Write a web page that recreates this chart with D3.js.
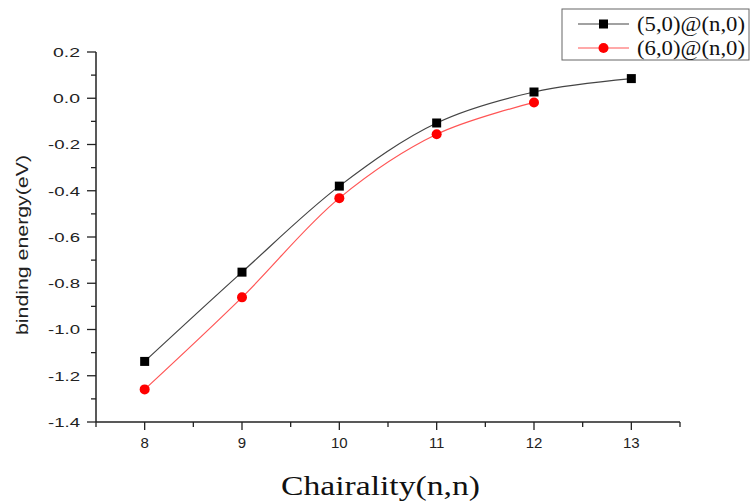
<!DOCTYPE html>
<html><head><meta charset="utf-8">
<script src="https://cdn.jsdelivr.net/npm/d3@7"></script>
<style>html,body{margin:0;padding:0;background:#fff;}svg{display:block;}</style>
</head><body>
<svg id="c" width="754" height="501"></svg>
<script>
const categories = [8, 9, 10, 11, 12, 13];
const series1Name = "(5,0)@(n,0)";
const series1 = [-1.138, -0.752, -0.380, -0.107, 0.027, 0.085];
const series2Name = "(6,0)@(n,0)";
const series2 = [-1.259, -0.861, -0.432, -0.156, -0.018];
const yTicks = [0.2, 0.0, -0.2, -0.4, -0.6, -0.8, -1.0, -1.2, -1.4];
const xTicks = [8, 9, 10, 11, 12, 13];

const svg = d3.select("#c");
const x = d3.scaleLinear().domain([7.5, 13.5]).range([96, 680]);
const y = d3.scaleLinear().domain([-1.4, 0.2]).range([422, 52]);
const sans = "Liberation Sans, Arial, sans-serif";
const serif = "Liberation Serif, Times New Roman, serif";

// axes
const gx = svg.append("g").attr("transform", "translate(0,422)");
gx.append("line").attr("x1", 96).attr("x2", 680).attr("stroke", "#222").attr("stroke-width", 1.5);
d3.range(7.5, 13.51, 0.5).forEach(v => {
  const major = Number.isInteger(v);
  gx.append("line").attr("x1", x(v)).attr("x2", x(v)).attr("y1", 0).attr("y2", major ? 8 : 5)
    .attr("stroke", "#222").attr("stroke-width", 1.3);
});
xTicks.forEach(v => {
  gx.append("text").attr("x", x(v)).attr("y", 26).attr("text-anchor", "middle")
    .attr("font-family", sans).attr("font-size", 15).attr("fill", "#222").text(v);
});

const gy = svg.append("g").attr("transform", "translate(96,0)");
gy.append("line").attr("y1", 52).attr("y2", 422).attr("stroke", "#222").attr("stroke-width", 1.5);
d3.range(-14, 3, 1).forEach(i => {
  const v = i / 10;
  const major = i % 2 === 0;
  gy.append("line").attr("x1", 0).attr("x2", major ? -9 : -5).attr("y1", y(v)).attr("y2", y(v))
    .attr("stroke", "#222").attr("stroke-width", 1.3);
});
yTicks.forEach(v => {
  const s = v.toFixed(1);
  const w = s.startsWith("-") ? 32 : 27;
  gy.append("text").attr("x", -16 - w).attr("y", y(v)).attr("dy", "0.36em").attr("text-anchor", "start")
    .attr("textLength", w).attr("lengthAdjust", "spacingAndGlyphs")
    .attr("font-family", sans).attr("font-size", 13.5).attr("fill", "#222").text(s);
});

// labels
svg.append("text").attr("transform", "translate(28,245) rotate(-90)").attr("text-anchor", "middle")
  .attr("textLength", 180).attr("lengthAdjust", "spacingAndGlyphs")
  .attr("font-family", sans).attr("font-size", 17).attr("fill", "#222")
  .text("binding energy(eV)");
svg.append("text").attr("x", 380.5).attr("y", 495).attr("text-anchor", "middle")
  .attr("textLength", 199).attr("lengthAdjust", "spacingAndGlyphs")
  .attr("font-family", serif).attr("font-size", 28).attr("fill", "#111")
  .text("Chairality(n,n)");

// lines
const line = d3.line().x(d => x(d[0])).y(d => y(d[1])).curve(d3.curveCatmullRom.alpha(0.5));
const d1 = categories.map((c, i) => [c, series1[i]]);
const d2 = series2.map((v, i) => [categories[i], v]);
svg.append("path").attr("d", line(d1)).attr("fill", "none").attr("stroke", "#444").attr("stroke-width", 1.2);
svg.append("path").attr("d", line(d2)).attr("fill", "none").attr("stroke", "#ff5555").attr("stroke-width", 1.2);

svg.selectAll(".sq").data(d1).enter().append("rect")
  .attr("x", d => x(d[0]) - 4.5).attr("y", d => y(d[1]) - 4.5).attr("width", 9).attr("height", 9).attr("fill", "#000");
svg.selectAll(".ci").data(d2).enter().append("circle")
  .attr("cx", d => x(d[0])).attr("cy", d => y(d[1])).attr("r", 5).attr("fill", "#ff0000");

// legend
const lg = svg.append("g");
lg.append("rect").attr("x", 562).attr("y", 9).attr("width", 187).attr("height", 51)
  .attr("fill", "#fff").attr("stroke", "#666").attr("stroke-width", 1);
[[series1Name, "#444", "sq"], [series2Name, "#ff5555", "ci"]].forEach((s, i) => {
  const cy = 24 + i * 24;
  lg.append("line").attr("x1", 578).attr("x2", 629).attr("y1", cy).attr("y2", cy).attr("stroke", s[1]).attr("stroke-width", 1.2);
  if (s[2] === "sq") lg.append("rect").attr("x", 603.5 - 4.5).attr("y", cy - 4.5).attr("width", 9).attr("height", 9).attr("fill", "#000");
  else lg.append("circle").attr("cx", 603.5).attr("cy", cy).attr("r", 5).attr("fill", "#ff0000");
  lg.append("text").attr("x", 637).attr("y", cy).attr("dy", "0.35em")
    .attr("textLength", 108).attr("lengthAdjust", "spacingAndGlyphs")
    .attr("font-family", serif).attr("font-size", 20).attr("fill", "#111").text(s[0]);
});
</script>
</body></html>
